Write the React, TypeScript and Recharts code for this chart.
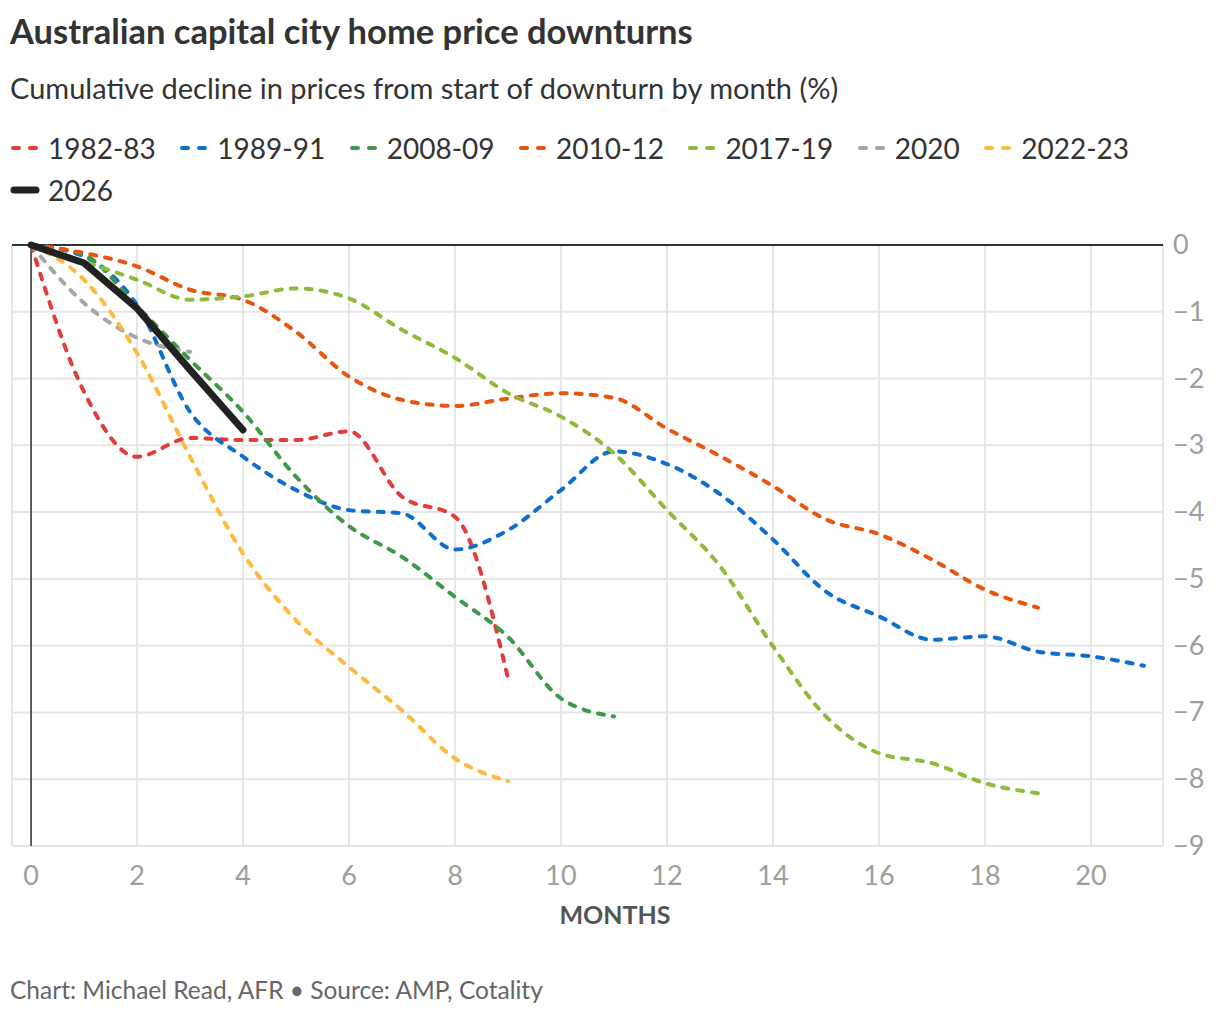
import React from 'react';
import { LineChart, Line, XAxis, YAxis, CartesianGrid, ReferenceLine } from 'recharts';

// months since start of each downturn
const months = [0, 1, 2, 3, 4, 5, 6, 7, 8, 9, 10, 11, 12, 13, 14, 15, 16, 17, 18, 19, 20, 21];

// cumulative decline (%), one value per month
const d1982 = [0, -2.2, -3.17, -2.89, -2.92, -2.92, -2.79, -3.77, -4.07, -6.49];
const d1989 = [0, -0.17, -0.9, -2.5, -3.17, -3.67, -3.97, -4.02, -4.56, -4.27, -3.67, -3.09, -3.28, -3.73, -4.41, -5.19, -5.56, -5.91, -5.86, -6.09, -6.16, -6.3];
const d2008 = [0, -0.15, -0.92, -1.72, -2.5, -3.47, -4.21, -4.67, -5.27, -5.87, -6.79, -7.06];
const d2010 = [0, -0.12, -0.32, -0.67, -0.82, -1.3, -1.97, -2.32, -2.41, -2.3, -2.22, -2.29, -2.75, -3.16, -3.61, -4.11, -4.33, -4.71, -5.16, -5.43];
const d2017 = [0, -0.25, -0.52, -0.82, -0.77, -0.65, -0.8, -1.27, -1.69, -2.22, -2.57, -3.12, -3.97, -4.81, -6.01, -7.06, -7.61, -7.76, -8.06, -8.21];
const d2020 = [0, -0.87, -1.39, -1.6];
const d2022 = [0, -0.52, -1.62, -3.17, -4.62, -5.62, -6.32, -6.97, -7.69, -8.03];
const d2026 = [0, -0.27, -0.95, -1.87, -2.77];

const xTicks = [0, 2, 4, 6, 8, 10, 12, 14, 16, 18, 20];
const yTicks = [0, -1, -2, -3, -4, -5, -6, -7, -8, -9];

const series = [
  { key: 'd1982', name: '1982-83', values: d1982, color: '#e23d3a' },
  { key: 'd1989', name: '1989-91', values: d1989, color: '#0f6fcf' },
  { key: 'd2008', name: '2008-09', values: d2008, color: '#3e9a48' },
  { key: 'd2010', name: '2010-12', values: d2010, color: '#e8550f' },
  { key: 'd2017', name: '2017-19', values: d2017, color: '#8fba3b' },
  { key: 'd2020', name: '2020', values: d2020, color: '#a6a6a6' },
  { key: 'd2022', name: '2022-23', values: d2022, color: '#ffb940' },
];

const data = months.map((m, i) => {
  const row: Record<string, number | undefined> = { month: m };
  series.forEach((s) => { row[s.key] = s.values[i]; });
  row.d2026 = d2026[i];
  return row;
});

const FONT = 'Lato, "Noto Sans", sans-serif';

const YTick = (props: any) => {
  const { x, y, payload } = props;
  const label = payload.value === 0 ? '0' : `\u2212${Math.abs(payload.value)}`;
  return (
    <text x={x} y={y} dy={9} textAnchor="start" fill="#9e9e9e" fontSize={27} fontFamily={FONT}>
      {label}
    </text>
  );
};

const XTick = (props: any) => {
  const { x, y, payload } = props;
  return (
    <text x={x} y={y} dy={31} textAnchor="middle" fill="#9e9e9e" fontSize={27} fontFamily={FONT}>
      {payload.value}
    </text>
  );
};

const LegendItem = ({ name, color, solid }: { name: string; color: string; solid?: boolean }) => (
  <div style={{ display: 'flex', alignItems: 'center', marginRight: 23.5, height: 42 }}>
    <svg width={30} height={10} style={{ marginRight: 8 }}>
      {solid ? (
        <line x1={4} y1={5} x2={26} y2={5} stroke={color} strokeWidth={7} strokeLinecap="round" />
      ) : (
        <>
          <line x1={3} y1={5} x2={9} y2={5} stroke={color} strokeWidth={4} strokeLinecap="round" />
          <line x1={20} y1={5} x2={26} y2={5} stroke={color} strokeWidth={4} strokeLinecap="round" />
        </>
      )}
    </svg>
    <span style={{ fontSize: 28, color: '#333' }}>{name}</span>
  </div>
);

export default function App() {
  return (
    <div style={{ position: 'absolute', left: 0, top: 0, width: 1220, height: 1018, background: '#fff', fontFamily: FONT }}>
      <div style={{ position: 'absolute', left: 10, top: 10, fontSize: 34.5, fontWeight: 700, color: '#333', lineHeight: '42px' }}>
        Australian capital city home price downturns
      </div>
      <div style={{ position: 'absolute', left: 10, top: 69, fontSize: 29, color: '#333', lineHeight: '38px' }}>
        Cumulative decline in prices from start of downturn by month (%)
      </div>
      <div style={{ position: 'absolute', left: 10, top: 127, width: 1180, display: 'flex', flexWrap: 'wrap' }}>
        {series.map((s) => (
          <LegendItem key={s.key} name={s.name} color={s.color} />
        ))}
        <LegendItem name="2026" color="#222" solid />
      </div>

      <div style={{ position: 'absolute', left: 0, top: 0 }}>
        <LineChart width={1220} height={1018} data={data} margin={{ top: 245, right: 0, left: 12, bottom: 102 }}>
          <CartesianGrid stroke="#e6e6e6" strokeWidth={2} />
          <XAxis
            dataKey="month"
            type="number"
            domain={[-0.36, 21.36]}
            ticks={xTicks}
            allowDataOverflow
            axisLine={false}
            tickLine={false}
            tickSize={0}
            tickMargin={8}
            height={70}
            tick={<XTick />}
          />
          <YAxis
            orientation="right"
            type="number"
            domain={[-9, 0]}
            ticks={yTicks}
            axisLine={false}
            tickLine={false}
            tickSize={0}
            tickMargin={10}
            width={57}
            tick={<YTick />}
          />
          <ReferenceLine y={0} stroke="#333" strokeWidth={2} />
          <ReferenceLine x={0} stroke="#333" strokeWidth={1.5} />
          {series.map((s) => (
            <Line
              key={s.key}
              dataKey={s.key}
              name={s.name}
              type="monotone"
              stroke={s.color}
              strokeWidth={4}
              strokeDasharray="6 9"
              strokeLinecap="round"
              dot={false}
              activeDot={false}
              isAnimationActive={false}
            />
          ))}
          <Line
            dataKey="d2026"
            name="2026"
            type="linear"
            stroke="#222"
            strokeWidth={7}
            strokeLinecap="round"
            strokeLinejoin="round"
            dot={false}
            activeDot={false}
            isAnimationActive={false}
          />
        </LineChart>
      </div>

      <div style={{ position: 'absolute', left: 0, width: 1230, top: 897, textAlign: 'center', fontSize: 25, fontWeight: 700, color: '#555', lineHeight: '34px' }}>
        MONTHS
      </div>
      <div style={{ position: 'absolute', left: 10, top: 973, fontSize: 24.5, color: '#666', lineHeight: '34px' }}>
        Chart: Michael Read, AFR • Source: AMP, Cotality
      </div>
    </div>
  );
}
